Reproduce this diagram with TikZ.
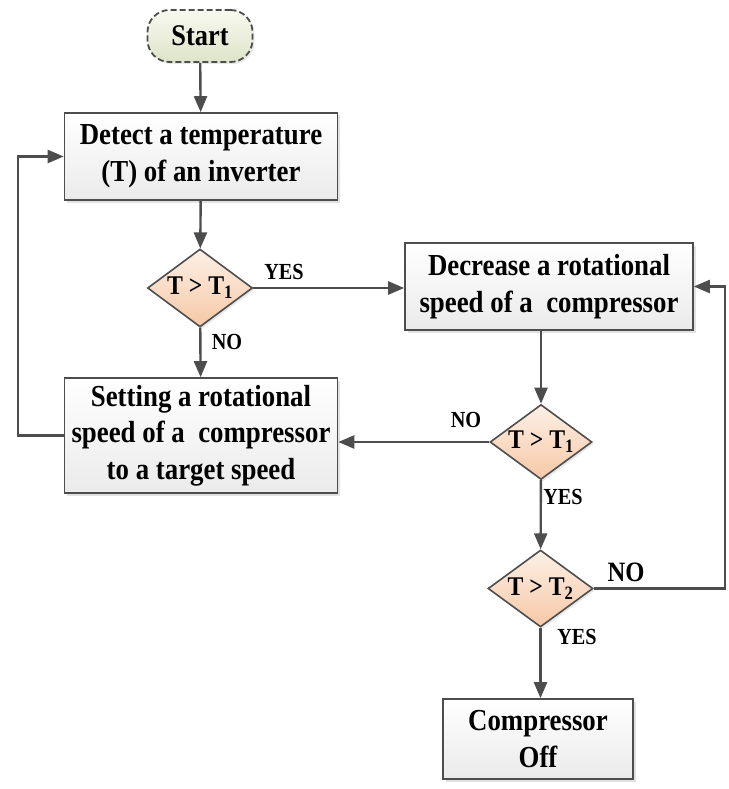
\documentclass[tikz,border=0pt]{standalone}
\usepackage{fontspec}
\setmainfont{Liberation Serif}[FakeStretch=0.88]
\usetikzlibrary{shapes.geometric,shapes.misc,arrows.meta,shadows,calc}
\definecolor{linegray}{RGB}{77,77,77}
\definecolor{peachtop}{RGB}{253,240,230}
\definecolor{peachbot}{RGB}{246,200,166}
\definecolor{greentop}{RGB}{248,249,240}
\definecolor{greenbot}{RGB}{222,228,200}
\tikzset{
  boxstyle/.style={rectangle, draw=linegray, line width=1.6pt, top color=white, bottom color=gray!16,
    drop shadow={shadow xshift=2.5pt, shadow yshift=-2.5pt, fill=gray!45},
    align=center, font=\fontsize{30.5}{36.5}\selectfont\bfseries, inner sep=0pt},
  diastyle/.style={diamond, draw=linegray, line width=1.6pt, top color=peachtop, bottom color=peachbot,
    inner sep=0pt, drop shadow={shadow xshift=2pt, shadow yshift=-2pt, fill=gray!35}},
  diatext/.style={font=\fontsize{27}{32}\selectfont\bfseries, inner sep=0pt},
  startstyle/.style={rectangle, rounded corners=22pt, draw=linegray, dashed, dash pattern=on 6pt off 3pt,
    line width=1.8pt, top color=greentop, bottom color=greenbot,
    drop shadow={shadow xshift=2pt, shadow yshift=-2pt, fill=gray!35},
    font=\fontsize{30}{36}\selectfont\bfseries, inner sep=0pt},
  conn/.style={draw=linegray, line width=2.4pt, -{Triangle[length=16pt,width=13pt]}},
  lab/.style={font=\fontsize{23}{26}\selectfont\bfseries, inner sep=0pt},
  labbig/.style={font=\fontsize{28}{30}\selectfont\bfseries, inner sep=0pt}
}
\begin{document}
\begin{tikzpicture}[x=1pt,y=-1pt]
\useasboundingbox (0,0) rectangle (728,789);
\node[startstyle, minimum width=105pt, minimum height=52pt] (start) at (200,36) {Start};
\node[boxstyle, minimum width=273pt, minimum height=87pt] (detect) at (201,156.5) {Detect a temperature\\(T) of an inverter};
\node[diastyle, minimum width=105pt, minimum height=78pt] (d1) at (200,288) {};
\node[diatext] (d1t) at (d1) {T > T\textsubscript{1}};
\node[boxstyle, minimum width=273pt, minimum height=115pt] (setting) at (201,435.5) {Setting a rotational\\speed of a\ \ compressor\\to a target speed};
\node[boxstyle, minimum width=288pt, minimum height=87pt] (decrease) at (549,286.5) {Decrease a rotational\\speed of a\ \ compressor};
\node[diastyle, minimum width=102pt, minimum height=75pt] (d2) at (541,442) {};
\node[diatext] (d2t) at (d2) {T > T\textsubscript{1}};
\node[diastyle, minimum width=105pt, minimum height=77pt] (d3) at (540.5,588.5) {};
\node[diatext] (d3t) at (d3) {T > T\textsubscript{2}};
\node[boxstyle, minimum width=190pt, minimum height=80pt] (off) at (538,739) {Compressor\\Off};
\coordinate (rightc) at (725,588.5);
\coordinate (leftc) at (18,435.5);
% connectors
\draw[conn] (start) -- (detect);
\draw[conn] (detect) -- (d1);
\draw[conn] (d1) -- (setting);
\draw[conn] (d1.east) -- (d1.east -| decrease.west);
\draw[conn] (d2.north |- decrease.south) -- (d2.north);
\draw[conn] (d2.west) -- (d2.west -| setting.east);
\draw[conn] (d2) -- (d3);
\draw[conn] (d3) -- (off.north -| d3);
\draw[conn] (d3.east) -- (rightc) |- (decrease.east);
\draw[conn] (setting.west) -- (leftc) |- (detect.west);
% labels
\node[lab] (l1) at (284,272) {YES};
\node[lab] (l2) at (227,342) {NO};
\node[lab] (l3) at (466,420) {NO};
\node[lab] (l4) at (563,497) {YES};
\node[labbig] (l5) at (626,572) {NO};
\node[lab] (l6) at (577,637) {YES};
\end{tikzpicture}
\end{document}
